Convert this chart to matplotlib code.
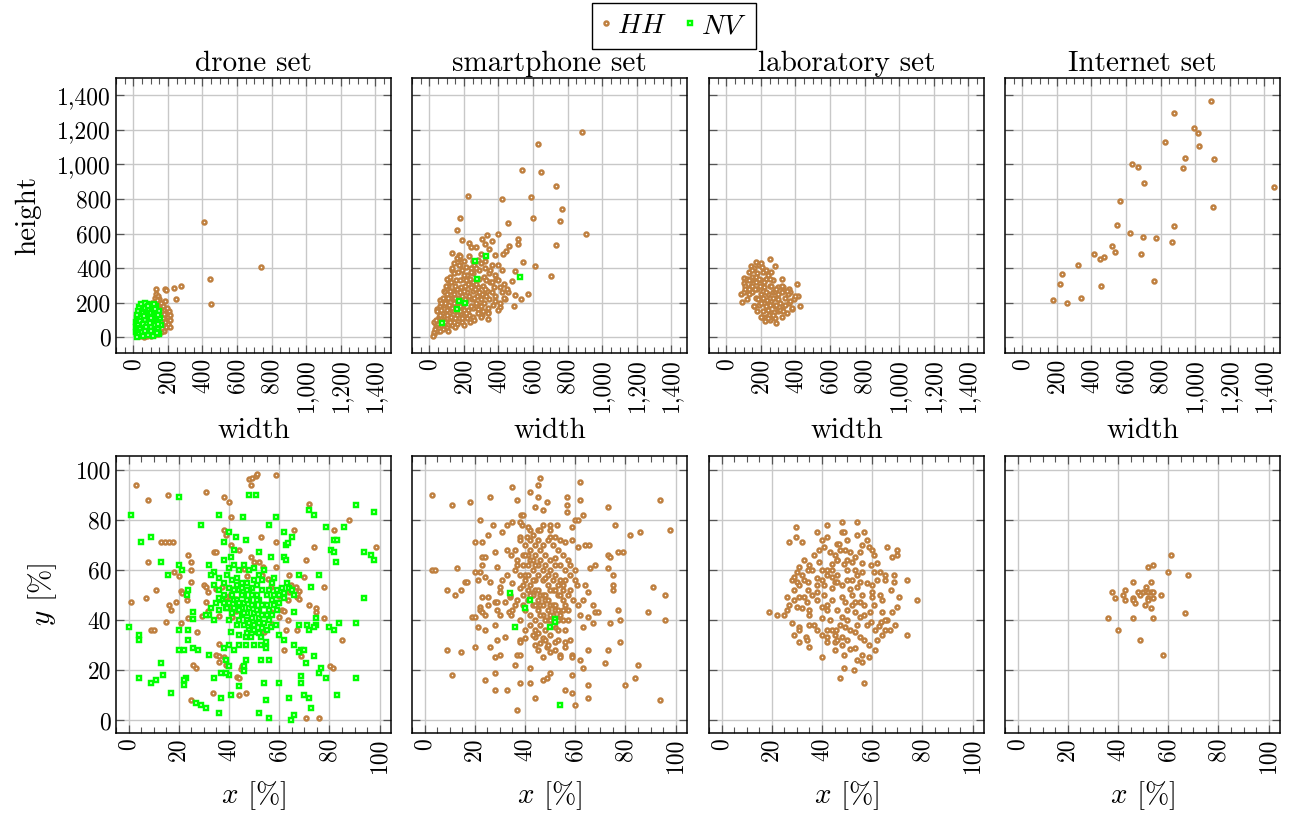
import numpy as np
import matplotlib
matplotlib.use("Agg")
import matplotlib.pyplot as plt
from matplotlib.lines import Line2D
from matplotlib.ticker import MultipleLocator

plt.rcParams["font.family"] = ["cmr10", "DejaVu Serif"]
plt.rcParams["mathtext.fontset"] = "cm"
plt.rcParams["axes.formatter.use_mathtext"] = True

HH_COLOR = "#bf8040"
NV_COLOR = "#00ff00"

set_names = ["drone set", "smartphone set", "laboratory set", "Internet set"]

size_ticks = [0, 200, 400, 600, 800, 1000, 1200, 1400]
size_tick_labels = ["0", "200", "400", "600", "800", "1,000", "1,200", "1,400"]
pos_ticks = [0, 20, 40, 60, 80, 100]
pos_tick_labels = ["0", "20", "40", "60", "80", "100"]

# ---- object size (width, height) in pixels ----
drone_hh_size = [
    (407, 668), (739, 407), (444, 336), (451, 193), (131, 282), (186, 278),
    (188, 272), (238, 284), (276, 299), (248, 222), (186, 208), (202, 69),
    (20, 20), (30, 40), (40, 60), (50, 80), (60, 100), (70, 120), (80, 140),
    (90, 160), (100, 180), (110, 200), (125, 230), (130, 250), (140, 240),
    (150, 220), (160, 200), (170, 180), (180, 160), (190, 140), (200, 120),
    (210, 100), (200, 80), (190, 60), (180, 40), (160, 30), (140, 20),
    (120, 15), (100, 10), (80, 8), (60, 5), (40, 10), (150, 130), (170, 110),
    (185, 90), (140, 170), (120, 190), (160, 150), (175, 135), (205, 150),
    (195, 170), (210, 60), (145, 60), (165, 80), (215, 130), (135, 215),
]
drone_nv_size = [
    (15, 30), (15, 60), (15, 90), (20, 110), (20, 20), (25, 45), (30, 70),
    (30, 100), (30, 130), (35, 20), (40, 150), (40, 50), (45, 85), (45, 115),
    (50, 170), (50, 30), (55, 140), (60, 190), (60, 60), (65, 100),
    (70, 170), (70, 20), (75, 130), (80, 195), (80, 80), (85, 45), (90, 160),
    (90, 110), (95, 190), (100, 140), (100, 60), (105, 25), (110, 175),
    (110, 90), (115, 120), (120, 150), (120, 40), (125, 70), (130, 100),
    (130, 180), (135, 130), (140, 50), (145, 90), (150, 150), (150, 20),
    (155, 110), (160, 70), (100, 190), (70, 200), (25, 150), (35, 175),
    (55, 10), (85, 15), (115, 10), (140, 30), (20, 5), (45, 195), (120, 195),
    (25, 75), (40, 95), (55, 75), (60, 125), (75, 60), (85, 180), (95, 85),
    (105, 110), (125, 165), (135, 25), (145, 130), (65, 40), (100, 35),
    (20, 130), (140, 75),
]

smart_hh_size = [
    (881, 1185), (628, 1119), (534, 969), (645, 957), (732, 878), (225, 818),
    (422, 801), (588, 811), (768, 741), (758, 672), (599, 691), (180, 689),
    (457, 660), (161, 621), (906, 600), (396, 598), (732, 533), (336, 594),
    (188, 562), (515, 571), (511, 538), (363, 560), (132, 490), (171, 479),
    (461, 529), (443, 498), (426, 483), (543, 438), (611, 411), (705, 357),
    (495, 382), (480, 328), (572, 253), (528, 222), (488, 181), (411, 178),
    (338, 104), (227, 548), (240, 523), (307, 571), (322, 538), (346, 513),
    (380, 475), (361, 417), (399, 417), (418, 388), (380, 359), (409, 291),
    (457, 262), (495, 243), (438, 224), (342, 147), (303, 127), (284, 166),
    (169, 455), (178, 417), (131, 388), (111, 334), (83, 270), (63, 214),
    (44, 166), (25, 21),
    (30, 30), (35, 50), (40, 70), (30, 90), (50, 40), (50, 80), (55, 120),
    (45, 150), (60, 180), (80, 50), (80, 100), (75, 140), (85, 190),
    (80, 230), (90, 260), (100, 60), (100, 110), (105, 160), (95, 210),
    (100, 250), (110, 300), (100, 340), (130, 70), (125, 120), (130, 170),
    (135, 220), (130, 270), (125, 320), (140, 370), (130, 400), (160, 80),
    (160, 130), (155, 180), (165, 230), (160, 280), (155, 330), (165, 380),
    (170, 420), (160, 460), (190, 90), (185, 140), (195, 190), (190, 240),
    (185, 290), (195, 340), (190, 390), (200, 440), (220, 110), (225, 160),
    (215, 210), (220, 260), (225, 310), (220, 360), (215, 410), (230, 470),
    (250, 120), (255, 170), (245, 220), (250, 270), (255, 320), (250, 370),
    (260, 420), (280, 140), (285, 190), (275, 240), (280, 290), (285, 340),
    (290, 390), (280, 450), (310, 150), (315, 200), (305, 250), (310, 300),
    (315, 350), (320, 400), (340, 170), (345, 220), (335, 270), (350, 320),
    (345, 370), (370, 190), (380, 240), (375, 290), (385, 340), (410, 200),
    (420, 260), (430, 310), (60, 40), (70, 70), (90, 90), (115, 140),
    (145, 200), (175, 260), (205, 300), (235, 340), (120, 230), (150, 300),
    (200, 360), (240, 400), (270, 200), (300, 180), (230, 130), (170, 110),
    (140, 90), (110, 80), (65, 120), (205, 220), (265, 280), (330, 330),
    (40, 100), (60, 130), (70, 160), (90, 200), (110, 230), (120, 270),
    (140, 250), (150, 230), (170, 200), (180, 180), (200, 160), (210, 140),
    (240, 180), (260, 230), (270, 310), (290, 260), (300, 220), (320, 280),
    (330, 240), (360, 260), (360, 320), (240, 290), (230, 240), (200, 270),
    (180, 330), (210, 330), (250, 440), (300, 430), (270, 400), (320, 440),
    (120, 350), (140, 430), (180, 470), (20, 10), (110, 40), (150, 60),
    (200, 70), (260, 100), (300, 120), (340, 140), (400, 160), (380, 210),
    (430, 230), (450, 280), (400, 330), (350, 390), (300, 480), (270, 520),
    (240, 380), (70, 200), (95, 300), (115, 190), (145, 150), (175, 150),
    (235, 90), (190, 110), (150, 110), (100, 130), (120, 90),
]
smart_nv_size = [
    (73, 81), (159, 164), (171, 208), (207, 201), (275, 338), (267, 440),
    (326, 469), (522, 349),
]

lab_hh_size = [
    (255, 452), (169, 436), (284, 411), (140, 411), (102, 344), (102, 317),
    (83, 253), (92, 205), (159, 179), (409, 307), (415, 239), (424, 181),
    (290, 85), (207, 118), (323, 340), (361, 282), (380, 166),
    (110, 300), (120, 340), (130, 380), (140, 300), (150, 260), (150, 350),
    (160, 400), (170, 320), (170, 230), (180, 280), (180, 370), (190, 420),
    (190, 190), (200, 330), (200, 250), (210, 150), (210, 380), (220, 290),
    (220, 200), (230, 120), (230, 340), (240, 250), (240, 160), (250, 300),
    (250, 100), (260, 210), (260, 140), (270, 260), (270, 330), (280, 180),
    (280, 110), (290, 230), (300, 150), (300, 290), (310, 200), (320, 120),
    (320, 260), (330, 180), (340, 230), (350, 140), (360, 200), (370, 260),
    (380, 170), (390, 220), (160, 180), (130, 250), (200, 120), (240, 360),
    (180, 150), (260, 380), (120, 220), (215, 270), (235, 215), (195, 300),
    (255, 185), (275, 145), (225, 95), (245, 130), (185, 225), (165, 280),
    (145, 330), (205, 405), (230, 390), (300, 250), (330, 290), (355, 250),
    (100, 260), (110, 280), (130, 330), (150, 300), (170, 350), (190, 340),
    (200, 200), (210, 230), (220, 320), (230, 260), (250, 230), (260, 300),
    (280, 270), (290, 190), (300, 220), (310, 160), (340, 190), (350, 270),
    (370, 210), (400, 240), (240, 110), (270, 130), (200, 430), (150, 390),
    (130, 280), (270, 230), (290, 280), (320, 300), (330, 150), (230, 180),
    (250, 340),
]

net_hh_size = [
    (180, 214), (261, 197), (342, 228), (219, 309), (228, 369), (321, 421),
    (455, 299), (413, 483), (447, 452), (472, 467), (520, 527), (536, 492),
    (545, 650), (564, 786), (622, 606), (632, 1000), (668, 988), (705, 892),
    (689, 483), (695, 581), (774, 575), (762, 328), (826, 1131), (864, 552),
    (879, 645), (877, 1297), (927, 980), (939, 1040), (993, 1210),
    (1014, 1181), (1021, 1104), (1091, 1368), (1110, 1029), (1100, 753),
    (1457, 869),
]

# ---- object centre position (x, y) in percent of the image ----
drone_hh_pos = [
    (2.9, 94.0), (7.9, 88.0), (15.9, 90.0), (30.9, 91.0), (37.9, 89.0),
    (39.9, 87.0), (47.9, 96.3), (49.3, 96.9), (50.6, 97.6), (51.3, 98.3),
    (48.9, 94.0), (58.7, 98.0), (40.9, 81.0), (71.8, 86.2), (87.7, 80.1),
    (81.7, 76.0), (65.8, 76.0), (52.8, 73.0), (58.8, 71.0), (73.8, 69.1),
    (98.7, 69.1), (12.8, 71.0), (14.6, 71.0), (16.2, 71.0), (17.5, 71.0),
    (38.0, 76.1), (38.7, 74.0), (40.7, 70.0), (44.0, 68.0), (34.0, 67.1),
    (34.7, 67.1), (23.8, 66.0), (7.9, 63.1), (25.0, 63.1), (48.6, 65.1),
    (49.9, 63.1), (51.9, 63.1), (53.5, 61.1), (58.8, 61.1), (70.7, 64.0),
    (77.8, 53.1), (63.8, 58.0), (69.8, 57.1), (18.1, 59.1), (20.1, 57.8),
    (25.0, 60.0), (25.0, 55.4), (11.1, 52.1), (7.0, 48.9), (0.9, 47.1),
    (16.2, 46.1), (16.9, 44.1), (18.8, 47.1), (20.8, 51.8), (21.4, 50.7),
    (23.4, 48.1), (30.1, 54.2), (30.7, 53.1), (31.8, 51.1), (31.0, 47.1),
    (31.8, 43.8), (34.7, 52.5), (36.0, 41.8), (29.1, 41.8), (23.8, 40.8),
    (20.8, 38.9), (14.8, 39.2), (8.9, 36.1), (10.2, 36.1), (27.4, 35.2),
    (63.5, 48.2), (67.2, 49.1), (67.8, 51.8), (64.5, 54.1), (71.8, 46.1),
    (74.8, 45.0), (74.8, 43.2), (77.8, 40.9), (63.6, 40.0), (61.0, 44.2),
    (61.9, 43.8), (56.8, 43.2), (62.8, 36.1), (67.2, 36.1), (61.9, 28.2),
    (68.5, 25.9), (84.8, 32.1), (80.4, 21.9), (81.3, 20.8), (36.0, 30.5),
    (34.7, 26.2), (36.0, 25.9), (38.0, 25.5), (36.0, 23.2), (38.7, 22.2),
    (25.8, 22.2), (26.8, 21.1), (43.3, 17.3), (44.0, 17.0), (45.3, 21.9),
    (44.6, 20.6), (33.8, 11.0), (44.0, 10.2), (46.9, 11.0), (24.8, 8.0),
    (70.7, 1.1), (75.8, 1.1), (40.0, 49.8), (41.3, 52.5), (42.6, 48.5),
    (37.4, 53.1), (38.7, 49.1), (40.7, 45.2), (42.6, 43.8), (56.6, 53.1),
    (59.9, 49.8), (63.8, 51.4), (66.5, 53.1), (67.2, 50.5), (67.8, 48.5),
    (59.9, 41.2), (57.2, 38.5), (53.9, 35.2), (47.3, 34.5), (41.3, 41.2),
    (44.5, 55.0), (47.0, 57.5), (53.0, 58.0), (55.5, 56.5), (46.0, 60.5),
]
drone_nv_pos = [
    (1.1, 82.1), (19.9, 89.0), (47.8, 90.0), (50.9, 90.0), (35.9, 82.1),
    (45.7, 81.0), (58.8, 81.0), (90.7, 86.1), (97.7, 83.0), (71.8, 84.1),
    (73.9, 81.9), (28.9, 78.1), (55.8, 78.1), (78.7, 77.0), (85.8, 77.0),
    (61.9, 75.0), (64.9, 73.0), (39.9, 75.0), (42.9, 73.0), (46.9, 72.1),
    (37.9, 71.0), (8.9, 73.0), (5.0, 71.0), (62.8, 70.0), (63.6, 70.8),
    (81.7, 72.1), (82.8, 72.1), (80.7, 68.1), (81.7, 67.1), (93.8, 67.1),
    (96.7, 66.0), (97.7, 64.0), (82.7, 63.1), (51.8, 67.1), (56.8, 65.1),
    (61.9, 65.1), (62.8, 64.0), (41.8, 68.0), (40.9, 65.1), (37.9, 64.0),
    (12.8, 63.1), (19.9, 62.0), (21.2, 60.0), (15.9, 58.0), (31.9, 62.0),
    (33.9, 59.1), (33.0, 58.0), (75.8, 58.0), (67.8, 58.0), (72.8, 53.1),
    (93.8, 49.0), (90.7, 39.0), (83.7, 39.0), (79.7, 37.1), (81.7, 36.1),
    (74.8, 41.0), (74.8, 38.1), (73.8, 37.1), (67.8, 38.1), (70.9, 38.1),
    (71.8, 36.1), (65.8, 43.2), (58.8, 47.0), (23.8, 52.1), (23.2, 50.1),
    (37.1, 48.1), (38.8, 44.9), (25.8, 43.2), (25.8, 40.4), (31.9, 42.1),
    (0.0, 37.1), (4.0, 34.1), (4.0, 32.1), (19.9, 36.1), (23.8, 36.1),
    (23.8, 32.1), (19.9, 28.2), (21.9, 28.2), (25.8, 29.1), (27.8, 28.2),
    (31.9, 26.2), (12.8, 23.1), (4.0, 17.0), (8.9, 15.0), (10.9, 16.1),
    (13.9, 18.1), (22.8, 17.0), (22.1, 14.1), (21.9, 16.1), (17.0, 11.0),
    (26.9, 7.0), (28.9, 6.0), (30.9, 5.0), (35.9, 2.9), (33.9, 17.0),
    (37.0, 9.0), (40.9, 10.1), (43.8, 13.9), (39.9, 18.1), (37.0, 19.0),
    (38.8, 19.0), (45.8, 21.9), (45.8, 19.9), (46.9, 24.0), (52.8, 24.0),
    (55.8, 24.0), (38.9, 24.0), (39.9, 21.9), (53.8, 15.0), (59.9, 15.0),
    (54.8, 8.0), (51.8, 2.9), (55.8, 1.1), (63.7, 9.0), (64.8, 0.0),
    (65.8, 2.0), (69.8, 10.1), (71.8, 9.0), (72.8, 5.0), (68.7, 17.9),
    (68.7, 15.0), (70.7, 23.0), (73.8, 25.9), (68.7, 28.2), (69.8, 28.2),
    (75.8, 19.0), (76.8, 21.0), (78.7, 17.0), (82.8, 10.1), (90.7, 17.0),
    (67.8, 27.2), (65.8, 30.1), (61.9, 32.1), (59.9, 34.1), (54.8, 31.2),
    (54.8, 29.1), (52.8, 30.1), (49.8, 30.1), (46.9, 30.1), (43.8, 30.1),
    (41.8, 28.2), (39.9, 30.1), (37.9, 29.1), (40.9, 35.2), (43.8, 34.1),
    (46.9, 33.2), (48.9, 33.2), (50.9, 35.2), (52.8, 33.2), (56.8, 37.1),
    (58.8, 38.1),
    (44, 52), (46, 50), (48, 48), (50, 46), (52, 44), (54, 42), (56, 40),
    (45, 45), (47, 43), (49, 41), (51, 39), (53, 37), (55, 50), (53, 52),
    (51, 54), (49, 53), (47, 55), (45, 55), (50, 50), (48, 52), (52, 48),
    (54, 46), (56, 44), (44, 40), (46, 38), (48, 36), (50, 36), (42, 48),
    (43, 46), (44, 44), (42, 52), (57, 48), (58, 46), (46, 47), (50, 43),
    (48, 45), (52, 41), (54, 39), (40, 53), (38, 55), (36, 57), (39, 58),
    (41, 56), (43, 57), (57, 55), (59, 52), (61, 53), (60, 50), (62, 51),
    (64, 53), (63, 55), (58, 57), (41, 43), (39, 45), (40, 40), (43, 38),
    (47, 35), (52, 35), (55, 36), (38, 50), (36, 52), (34, 54), (44, 60),
    (46, 62), (48, 60), (50, 61), (52, 58), (54, 60), (42, 62), (40, 61),
    (62, 49), (65, 52), (66, 50), (36, 44), (34, 40), (31, 42), (35, 47),
    (33, 45),
    (45, 50), (47, 48), (49, 46), (51, 44), (53, 42), (55, 46), (43, 48),
    (45, 42), (47, 40), (49, 38), (51, 48), (53, 46), (55, 42), (57, 42),
    (49, 50), (51, 50), (47, 52), (43, 54), (41, 50), (45, 53), (50, 56),
    (53, 56), (56, 52), (58, 50), (59, 44), (60, 47), (42, 45), (44, 47),
    (46, 43), (48, 39), (50, 38), (52, 39), (38, 47), (36, 49), (40, 47),
]

smart_hh_pos = [
    (2.9, 90.0), (10.9, 86.1), (18.0, 87.0), (26.0, 89.0), (34.9, 93.0),
    (36.9, 88.0), (41.9, 91.0), (45.0, 94.0), (45.9, 96.9), (45.0, 89.0),
    (48.9, 87.0), (43.9, 85.0), (47.0, 84.1), (56.9, 89.0), (56.9, 86.1),
    (56.9, 83.0), (61.9, 95.0), (61.9, 88.0), (72.9, 85.0), (93.9, 88.0),
    (63.0, 82.1), (59.9, 80.1), (61.0, 80.1), (75.9, 78.1), (22.0, 80.1),
    (27.1, 78.1), (33.0, 78.1), (34.9, 79.0), (38.3, 82.1), (38.9, 78.1),
    (42.0, 76.1), (45.0, 76.1), (47.0, 78.1), (49.9, 78.1), (52.9, 78.1),
    (58.9, 77.0), (30.9, 75.0), (25.1, 74.1), (82.0, 74.1), (85.9, 75.0),
    (97.9, 76.1), (20.0, 71.0), (22.9, 71.0), (37.9, 73.0), (40.9, 73.0),
    (49.9, 73.0), (52.0, 73.0), (55.9, 71.0), (58.9, 72.1), (61.0, 69.1),
    (63.7, 70.0), (65.6, 70.0), (76.9, 67.1), (78.9, 67.1), (72.9, 66.0),
    (74.0, 65.1), (28.0, 67.1), (33.0, 68.0), (34.4, 66.0), (22.9, 65.1),
    (23.9, 65.1), (22.9, 62.0), (13.0, 61.0), (2.9, 60.0), (4.0, 60.0),
    (20.0, 59.1), (22.0, 59.1), (28.9, 61.1), (68.0, 62.0), (66.0, 61.0),
    (72.9, 61.0), (75.0, 58.0), (75.0, 54.0), (75.0, 52.1), (16.0, 55.1),
    (17.0, 55.1), (21.1, 56.0), (9.0, 52.1), (12.1, 50.1), (14.7, 52.1),
    (24.0, 57.1), (26.0, 55.1), (30.9, 56.0), (30.0, 53.1), (30.0, 51.1),
    (22.9, 49.1), (25.1, 49.1), (28.0, 47.1), (28.9, 47.1), (32.0, 47.1),
    (34.0, 49.1), (22.0, 45.2), (22.0, 44.1), (25.1, 46.2), (28.9, 44.1),
    (22.9, 43.2), (19.0, 41.2), (20.0, 41.2), (24.0, 42.1), (30.0, 42.1),
    (33.6, 43.2), (34.5, 42.1), (21.1, 37.1), (24.0, 36.1), (28.0, 38.1),
    (29.0, 32.1), (32.0, 33.1), (37.9, 32.1), (37.9, 31.2), (9.0, 28.2),
    (14.7, 27.2), (20.0, 29.2), (26.0, 29.2), (28.0, 25.2), (30.0, 26.2),
    (36.9, 26.2), (37.9, 26.2), (36.0, 22.2), (41.9, 21.1), (45.0, 28.2),
    (47.0, 25.2), (48.9, 29.2), (49.9, 27.2), (54.0, 26.2), (54.0, 25.2),
    (55.8, 29.2), (55.8, 31.2), (58.0, 32.1), (58.9, 26.2), (58.9, 25.2),
    (61.9, 24.2), (63.0, 21.1), (65.0, 28.2), (72.9, 28.2), (71.9, 23.1),
    (78.0, 31.2), (85.0, 22.2), (83.8, 17.0), (79.8, 14.1), (93.9, 8.0),
    (95.9, 40.0), (95.9, 50.1), (91.0, 53.1), (88.9, 43.2), (77.0, 44.1),
    (78.0, 40.0), (74.0, 39.0), (67.0, 39.0), (63.0, 37.1), (65.0, 41.2),
    (62.0, 42.1), (68.0, 43.2), (69.0, 43.2), (67.0, 46.2), (65.0, 51.1),
    (63.0, 48.1), (64.0, 54.0), (60.8, 54.0), (10.9, 18.1), (24.0, 16.1),
    (28.0, 19.0), (28.0, 12.1), (33.0, 12.1), (37.9, 15.0), (41.9, 15.0),
    (47.0, 16.1), (48.9, 17.0), (49.9, 19.0), (58.9, 18.1), (65.0, 14.1),
    (55.9, 12.1), (58.9, 11.0), (65.0, 9.0), (43.9, 9.0), (36.9, 4.0),
    (59.9, 6.0), (52.0, 31.2), (43.9, 33.2), (52.1, 37.2),
    (40, 70), (42, 68), (44, 66), (46, 64), (48, 62), (50, 60), (52, 58),
    (54, 56), (41, 62), (43, 60), (45, 58), (47, 56), (49, 54), (51, 52),
    (53, 50), (55, 48), (38, 58), (40, 56), (42, 54), (44, 52), (46, 50),
    (48, 48), (50, 46), (52, 44), (54, 42), (39, 50), (41, 48), (43, 46),
    (45, 44), (47, 42), (49, 40), (51, 38), (53, 36), (40, 44), (42, 42),
    (44, 40), (46, 38), (48, 36), (50, 34), (45, 35), (47, 33), (43, 34),
    (56, 60), (58, 58), (57, 64), (55, 66), (53, 68), (51, 70), (49, 72),
    (47, 70), (45, 72), (43, 74), (38, 72), (39, 66), (37, 64), (36, 60),
    (35, 55), (58, 52), (60, 56), (59, 48), (57, 44), (55, 40), (56, 36),
    (53, 32), (49, 30), (46, 31), (42, 38), (38, 40), (36, 46), (34, 50),
    (36, 68), (41, 77), (38, 79), (39, 82), (52, 65), (54, 62), (44, 56),
    (50, 64), (42, 64), (46, 68), (55, 54), (39, 46), (46, 46), (52, 52),
    (48, 57), (43, 51),
    (37, 62), (39, 62), (41, 66), (43, 64), (45, 62), (47, 60), (49, 58),
    (51, 56), (53, 54), (55, 52), (57, 50), (41, 52), (43, 50), (45, 48),
    (47, 46), (49, 44), (51, 42), (53, 40), (55, 44), (57, 40), (44, 70),
    (48, 66), (52, 62), (40, 58), (38, 53), (37, 48), (40, 36), (44, 36),
    (50, 40), (56, 56), (58, 62), (46, 76), (50, 76), (54, 72), (60, 60),
    (61, 46), (35, 44), (33, 58), (48, 32), (44, 30), (52, 28), (40, 33),
    (39, 54), (41, 58), (43, 56), (45, 52), (47, 50), (49, 48), (51, 46),
    (53, 44), (42, 50), (44, 46), (46, 42), (48, 40), (50, 42), (52, 46),
    (54, 50), (56, 46), (50, 52), (48, 50), (44, 62), (42, 72), (40, 66),
]
smart_nv_pos = [
    (34.0, 51.0), (41.8, 48.1), (40.1, 44.9), (35.9, 37.1), (49.9, 37.1),
    (52.0, 40.5), (52.0, 39.2), (54.0, 6.0),
]

lab_hh_pos = [
    (18.8, 43.2), (21.9, 42.1), (24.8, 42.1), (26.0, 44.1), (26.9, 46.1),
    (28.0, 39.0), (28.9, 34.1), (30.9, 37.1), (30.9, 36.1), (30.9, 31.2),
    (33.7, 33.2), (34.0, 32.1), (34.9, 29.2), (30.0, 45.2), (28.9, 48.2),
    (30.9, 49.1), (33.0, 49.1), (34.0, 47.1), (34.9, 44.2), (34.9, 42.1),
    (34.9, 38.1), (36.9, 38.1), (37.9, 36.1), (39.9, 34.1), (41.9, 33.2),
    (39.9, 25.2), (41.9, 31.2), (45.0, 31.2), (45.0, 28.2), (48.9, 26.2),
    (48.9, 21.1), (47.0, 17.1), (52.9, 20.1), (54.0, 24.2), (56.0, 26.2),
    (56.0, 23.2), (56.9, 15.0), (58.9, 25.2), (58.9, 30.1), (60.9, 28.2),
    (61.9, 32.1), (63.9, 34.1), (65.0, 36.1), (67.0, 36.1), (69.0, 38.1),
    (73.9, 34.1), (65.8, 40.1), (65.0, 40.1), (67.7, 43.2), (70.0, 45.2),
    (70.8, 49.1), (77.7, 48.1), (73.9, 56.0), (68.8, 55.1), (68.8, 58.0),
    (67.6, 52.1), (65.9, 69.1), (67.8, 65.1), (69.8, 68.0), (69.8, 66.0),
    (65.0, 58.0), (65.0, 56.0), (60.7, 59.1), (63.0, 59.1), (59.7, 62.0),
    (60.7, 66.0), (59.9, 68.1), (58.9, 69.1), (58.0, 72.1), (56.0, 70.0),
    (56.9, 75.0), (54.0, 79.0), (54.0, 74.0), (47.9, 79.0), (47.9, 75.0),
    (48.9, 75.0), (41.8, 78.0), (37.9, 75.0), (41.8, 73.0), (39.9, 72.1),
    (29.8, 77.0), (29.8, 73.0), (26.9, 71.0), (32.0, 71.0), (32.9, 64.0),
    (34.9, 62.0), (36.9, 66.0), (38.9, 68.0), (40.8, 69.1), (30.9, 61.1),
    (30.0, 59.1), (27.9, 56.0), (29.0, 57.1), (32.0, 58.0), (33.0, 56.0),
    (30.0, 55.1), (30.9, 54.1), (29.0, 52.1), (34.5, 55.1), (34.5, 52.1),
    (37.9, 54.1), (40.8, 54.1), (37.9, 51.1), (40.8, 50.1), (39.9, 60.0),
    (41.8, 60.0), (43.9, 60.0), (45.0, 66.0), (45.9, 64.0), (47.0, 68.0),
    (43.9, 62.4), (48.6, 62.4), (49.0, 68.0), (51.0, 67.1), (52.0, 63.1),
    (53.0, 65.1), (55.0, 67.1), (53.0, 60.0), (56.0, 59.1), (50.0, 56.0),
    (52.0, 56.0), (55.0, 55.1), (51.0, 52.5), (54.0, 53.1), (43.9, 57.1),
    (45.0, 55.1), (45.9, 55.1), (48.0, 49.1), (49.0, 47.1), (53.0, 47.1),
    (55.0, 47.1), (56.9, 46.1), (59.9, 51.1), (59.9, 49.1), (60.8, 46.1),
    (63.0, 50.1), (63.9, 48.1), (59.0, 43.2), (53.0, 43.2), (55.0, 41.2),
    (56.9, 42.1), (48.0, 41.2), (50.0, 40.1), (47.0, 38.1), (49.0, 37.1),
    (51.0, 36.1), (53.0, 35.2), (55.0, 33.2), (56.9, 32.1), (43.9, 36.1),
    (45.0, 34.1), (39.9, 45.2), (41.9, 44.1), (37.9, 48.1), (39.9, 40.8),
    (43.0, 40.1), (45.6, 36.1), (45.9, 32.1), (47.9, 33.2), (51.0, 28.6),
    (53.1, 28.8), (62.7, 37.7), (61.0, 35.9), (59.7, 39.2), (63.3, 39.4),
    (63.7, 43.2), (34.5, 60.0), (26.0, 49.1), (50.0, 72.0), (45.8, 70.4),
    (46.7, 70.4), (43.2, 67.1), (38.7, 63.1),
    (36, 60), (38, 57), (42, 58), (44, 53), (46, 58), (48, 54), (50, 60),
    (52, 50), (54, 58), (56, 50), (58, 55), (60, 54), (62, 56), (46, 44),
    (44, 48), (42, 46), (50, 44), (52, 46), (58, 38), (54, 38), (50, 32),
    (48, 30), (42, 36), (36, 50), (32, 45), (46, 64), (50, 64), (56, 63),
    (62, 63), (40, 56),
]

net_hh_pos = [
    (61.0, 66.0), (53.9, 62.0), (51.8, 61.1), (59.9, 59.1), (67.9, 58.0),
    (45.9, 55.1), (53.0, 55.1), (51.0, 53.1), (42.9, 52.1), (37.8, 51.1),
    (47.8, 51.1), (49.9, 51.1), (51.0, 51.8), (51.9, 51.1), (53.0, 51.1),
    (53.9, 51.1), (41.8, 50.1), (48.9, 50.1), (57.0, 50.1), (38.9, 49.0),
    (45.9, 49.0), (51.9, 49.0), (53.9, 49.0), (42.9, 48.1), (45.9, 48.1),
    (46.9, 47.0), (51.9, 48.1), (50.9, 46.1), (53.0, 45.0), (66.8, 43.0),
    (35.9, 41.0), (45.9, 41.0), (53.9, 41.0), (39.8, 36.1), (48.9, 32.1),
    (57.9, 26.0),
]

size_hh = [drone_hh_size, smart_hh_size, lab_hh_size, net_hh_size]
size_nv = [drone_nv_size, smart_nv_size, [], []]
pos_hh = [drone_hh_pos, smart_hh_pos, lab_hh_pos, net_hh_pos]
pos_nv = [drone_nv_pos, smart_nv_pos, [], []]

W, H = 1290, 814
fig = plt.figure(figsize=(W / 100, H / 100), dpi=100)

col_left = [116, 412, 709, 1005]
col_w = 275
row_top = [78, 456]
row_h = [275, 277]

hh_style = dict(ls="none", marker="o", ms=2.9, mew=1.75, mec=HH_COLOR, mfc="white")
nv_style = dict(ls="none", marker="s", ms=2.6, mew=1.75, mec=NV_COLOR, mfc="white")


def style_axes(ax):
    ax.set_axisbelow(True)
    ax.grid(True, which="major", color="#c8c8c8", lw=1.0)
    ax.tick_params(which="both", direction="in", top=True, right=True,
                   color="#555555", labelsize=17)
    ax.tick_params(which="major", length=6, width=0.9)
    ax.tick_params(which="minor", length=4.5, width=0.8, left=False, right=False)
    for sp in ax.spines.values():
        sp.set_linewidth(1.1)


def plot_pairs(ax, pairs, style):
    if len(pairs) == 0:
        return
    arr = np.array(pairs, dtype=float)
    ax.plot(arr[:, 0], arr[:, 1], **style)


for i in range(4):
    # top row: object size
    ax = fig.add_axes([col_left[i] / W, 1 - (row_top[0] + row_h[0]) / H, col_w / W, row_h[0] / H])
    style_axes(ax)
    plot_pairs(ax, size_hh[i], hh_style)
    plot_pairs(ax, size_nv[i], nv_style)
    ax.set_xlim(-100, 1490)
    ax.set_ylim(-90, 1500)
    ax.set_xticks(size_ticks)
    ax.set_xticklabels(size_tick_labels, rotation=90)
    ax.xaxis.set_minor_locator(MultipleLocator(50))
    ax.set_yticks(size_ticks)
    if i == 0:
        ax.set_yticklabels(size_tick_labels)
        ax.set_ylabel("height", fontsize=21, labelpad=12)
    else:
        ax.set_yticklabels([])
    ax.set_xlabel("width", fontsize=21, labelpad=4)
    ax.set_title(set_names[i], fontsize=21, pad=5)

    # bottom row: object position
    ax = fig.add_axes([col_left[i] / W, 1 - (row_top[1] + row_h[1]) / H, col_w / W, row_h[1] / H])
    style_axes(ax)
    plot_pairs(ax, pos_hh[i], hh_style)
    plot_pairs(ax, pos_nv[i], nv_style)
    ax.set_xlim(-5, 104.5)
    ax.set_ylim(-5, 105.5)
    ax.set_xticks(pos_ticks)
    ax.set_xticklabels(pos_tick_labels, rotation=90)
    ax.xaxis.set_minor_locator(MultipleLocator(5))
    ax.set_yticks(pos_ticks)
    if i == 0:
        ax.set_yticklabels(pos_tick_labels)
        ax.set_ylabel("$y$ [%]", fontsize=21, labelpad=12)
    else:
        ax.set_yticklabels([])
    ax.set_xlabel("$x$ [%]", fontsize=21, labelpad=4)

handles = [
    Line2D([], [], **hh_style),
    Line2D([], [], **nv_style),
]
fig.legend(handles, ["$HH$", "$NV$"], loc="upper center",
           bbox_to_anchor=(674 / W, 1 - 3 / H), ncol=2, fontsize=20,
           frameon=True, fancybox=False, edgecolor="black", framealpha=1,
           handlelength=0.3, handletextpad=0.25, columnspacing=0.7,
           borderpad=0.35, borderaxespad=0.0)

fig.savefig("out.png", dpi=100)
